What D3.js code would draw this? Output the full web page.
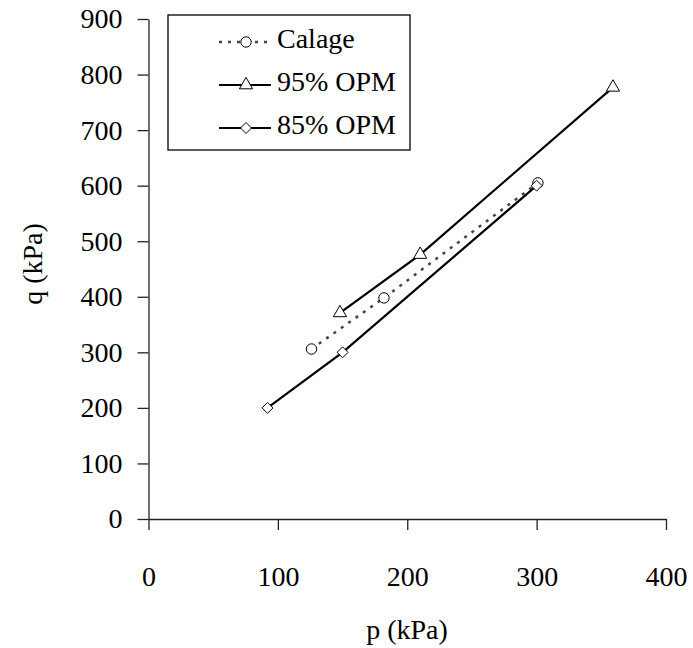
<!DOCTYPE html>
<html><head><meta charset="utf-8">
<script src="https://cdn.jsdelivr.net/npm/d3@7"></script>
</head><body style="margin:0;background:#fff">
<svg id="chart" width="693" height="648" style="font-family:'Liberation Serif','Times New Roman',serif"></svg>
<script>
const calageP = [126, 182, 301];
const calageQ = [306, 398, 605];
const opm95P = [148, 210, 359];
const opm95Q = [371, 476, 777];
const opm85P = [92, 150, 300];
const opm85Q = [200, 300, 600];
const xTicks = [0, 100, 200, 300, 400];
const yTicks = [0, 100, 200, 300, 400, 500, 600, 700, 800, 900];
const seriesNames = ["Calage", "95% OPM", "85% OPM"];

const svg = d3.select("#chart");
const FONT = '"Liberation Serif"';
const fs = "28px";
const x = d3.scaleLinear().domain([0, 400]).range([148.5, 666]);
const y = d3.scaleLinear().domain([0, 900]).range([519, 19]);

const xAxis = svg.append("g").attr("transform", `translate(0,${y(0)})`)
  .call(d3.axisBottom(x).tickValues(xTicks).tickSize(11).tickSizeOuter(0));
const yAxis = svg.append("g").attr("transform", `translate(${x(0)},0)`)
  .call(d3.axisLeft(y).tickValues(yTicks).tickSize(11).tickPadding(15).tickSizeOuter(0));
[xAxis, yAxis].forEach(a => {
  a.attr("font-family", FONT).attr("font-size", 28);
  a.select(".domain").attr("stroke", "#222").attr("stroke-width", 1.3);
  a.selectAll(".tick line").attr("stroke", "#222").attr("stroke-width", 1.3);
  a.selectAll(".tick text").attr("font-family", FONT).style("font-family", FONT).style("font-size", fs).attr("fill", "#000");
});
xAxis.selectAll(".tick text").attr("dy", "0.35em").attr("y", 57);

function addText(sel) { return sel.append("text").attr("font-family", FONT).style("font-family", FONT).style("font-size", fs).attr("fill", "#000"); }
addText(svg).attr("x", 407).attr("y", 633).attr("text-anchor", "middle")
  .attr("dominant-baseline", "middle").text("p (kPa)");
addText(svg).attr("transform", "translate(36,264) rotate(-90)").attr("text-anchor", "middle")
  .attr("dominant-baseline", "middle").text("q (kPa)");

const diamond = { draw(ctx, size) { const r = Math.sqrt(size) / Math.SQRT2; ctx.moveTo(0, -r); ctx.lineTo(r, 0); ctx.lineTo(0, r); ctx.lineTo(-r, 0); ctx.closePath(); } };
const line = d3.line().x(d => x(d[0])).y(d => y(d[1]));
const series = [
  {name: seriesNames[0], pts: d3.zip(calageP, calageQ), dash: "3,6", color: "#444", width: 2.5, sym: d3.symbolCircle, size: 85},
  {name: seriesNames[1], pts: d3.zip(opm95P, opm95Q), dash: null, color: "#000", width: 2.2, sym: d3.symbolTriangle, size: 75},
  {name: seriesNames[2], pts: d3.zip(opm85P, opm85Q), dash: null, color: "#000", width: 2.2, sym: diamond, size: 60}
];
series.forEach(s => {
  svg.append("path").datum(s.pts).attr("d", line).attr("fill", "none")
    .attr("stroke", s.color).attr("stroke-width", s.width).attr("stroke-dasharray", s.dash);
});
series.forEach(s => {
  svg.selectAll(null).data(s.pts).enter().append("path")
    .attr("d", d3.symbol().type(s.sym).size(s.size))
    .attr("transform", d => `translate(${x(d[0])},${y(d[1])})`)
    .attr("fill", "#fff").attr("stroke", "#000").attr("stroke-width", 1);
});

// legend
const lg = svg.append("g");
lg.append("rect").attr("x", 168).attr("y", 15).attr("width", 242).attr("height", 135)
  .attr("fill", "#fff").attr("stroke", "#000").attr("stroke-width", 1.3);
const rowsY = [42, 85, 128];
series.forEach((s, i) => {
  const ry = rowsY[i];
  lg.append("line").attr("x1", 219).attr("x2", 271).attr("y1", ry).attr("y2", ry)
    .attr("stroke", s.color).attr("stroke-width", s.width).attr("stroke-dasharray", s.dash);
  lg.append("path").attr("d", d3.symbol().type(s.sym).size(s.size))
    .attr("transform", `translate(246,${ry})`).attr("fill", "#fff").attr("stroke", "#000").attr("stroke-width", 1);
  addText(lg).attr("x", 277).attr("y", ry).attr("dominant-baseline", "middle").text(s.name);
});
</script>
</body></html>
